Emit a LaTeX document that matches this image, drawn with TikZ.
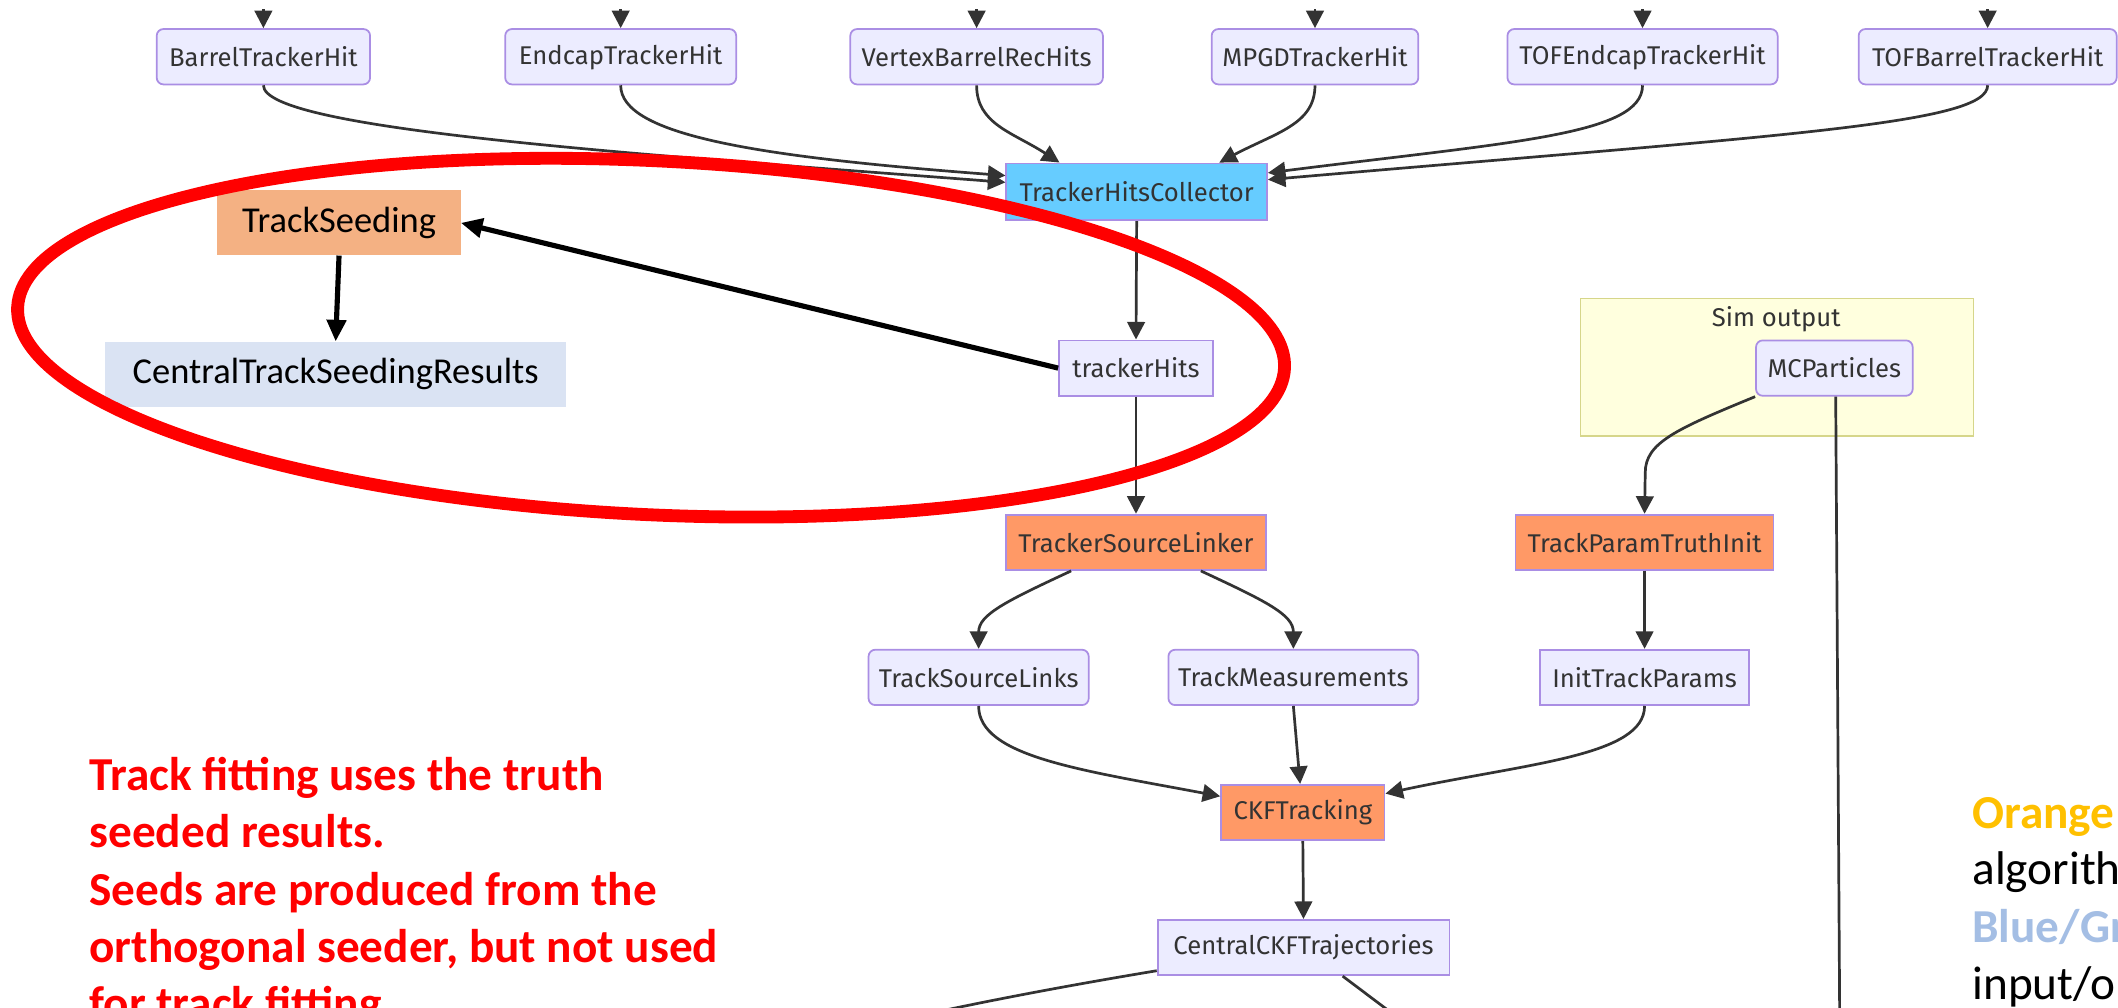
\documentclass[tikz,border=0pt]{standalone}
\usepackage{fontspec}
\setmainfont{Fira Sans}
\newfontfamily\calibri{Carlito}
\usetikzlibrary{arrows.meta,shapes.geometric,calc}

\definecolor{mmfill}{HTML}{ECECFF}
\definecolor{mmstroke}{HTML}{AA8EE4}
\definecolor{mmtext}{HTML}{333333}
\definecolor{mmline}{HTML}{333333}
\definecolor{algofill}{HTML}{FF9966}
\definecolor{collfill}{HTML}{66CCFF}
\definecolor{simfill}{HTML}{FFFFDE}
\definecolor{simstroke}{HTML}{D6D68A}
\definecolor{seedfill}{HTML}{F4B183}
\definecolor{seedres}{HTML}{DAE3F3}
\definecolor{ringred}{HTML}{FF0000}
\definecolor{noteorange}{HTML}{FFC000}
\definecolor{noteblue}{HTML}{A4BEE4}

\tikzset{
  mmbase/.style={draw=mmstroke, line width=1.3pt, text=mmtext,
    font=\fontsize{19}{22}\selectfont, inner sep=0pt, minimum height=41pt},
  data/.style={mmbase, fill=mmfill, rounded corners=5pt},
  datasq/.style={mmbase, fill=mmfill},
  algo/.style={mmbase, fill=algofill},
  collector/.style={mmbase, fill=collfill},
  edge/.style={draw=mmline, line width=2pt, -{Triangle[length=13pt,width=13pt]}},
  plainedge/.style={draw=mmline, line width=2pt},
  blkarrow/.style={draw=black, line width=3.8pt, -{Triangle[length=16pt,width=14pt]}},
  seedbox/.style={inner sep=0pt, minimum height=48pt, text=black,
    font=\calibri\fontsize{27}{30}\selectfont},
  rednote/.style={anchor=base west, inner sep=0pt, text=ringred,
    font=\calibri\bfseries\fontsize{35}{42}\selectfont},
  sidenote/.style={anchor=base west, inner sep=0pt,
    font=\calibri\fontsize{35}{42}\selectfont},
}

\begin{document}
\begin{tikzpicture}[x=1pt, y=-1pt]
\useasboundingbox (0,0) rectangle (1568,746);
\clip (0,0) rectangle (1568,746);

% simulation output cluster
\node[draw=simstroke, fill=simfill, line width=1.3pt, inner sep=0pt,
      minimum width=291pt, minimum height=102pt] (sim) at (1315.5,272) {};
\node[text=mmtext, font=\fontsize{19}{22}\selectfont, inner sep=0pt] (simlabel) at (1315,236) {Sim output};

% hit collections
\node[data, minimum width=158pt] (bth)  at (195,42)    {BarrelTrackerHit};
\node[data, minimum width=171pt] (eth)  at (459.5,42)  {EndcapTrackerHit};
\node[data, minimum width=187pt] (vbr)  at (723,42)    {VertexBarrelRecHits};
\node[data, minimum width=153pt] (mpgd) at (973.5,42)  {MPGDTrackerHit};
\node[data, minimum width=200pt] (tofe) at (1216,42)   {TOFEndcapTrackerHit};
\node[data, minimum width=191pt] (tofb) at (1471.5,42) {TOFBarrelTrackerHit};

\node[collector, minimum width=193pt, minimum height=42pt] (coll) at (841.5,142) {TrackerHitsCollector};
\node[datasq, minimum width=114pt] (th) at (841,272.5) {trackerHits};

\node[data, minimum width=116pt] (mcp) at (1358,272.5) {MCParticles};

\node[algo, minimum width=192pt] (tsl)  at (841,401.5)    {TrackerSourceLinker};
\node[algo, minimum width=191pt] (tpti) at (1217.5,401.5) {TrackParamTruthInit};

\node[data, minimum width=163pt]   (tslinks) at (724.5,501.5)  {TrackSourceLinks};
\node[data, minimum width=185pt]   (tmeas)   at (957.5,501.5)  {TrackMeasurements};
\node[datasq, minimum width=155pt] (itp)     at (1217.5,501.5) {InitTrackParams};

\node[algo, minimum width=121pt]   (ckf)  at (964.5,601.5) {CKFTracking};
\node[datasq, minimum width=216pt] (cckf) at (965,701.5)   {CentralCKFTrajectories};

% seeding branch
\node[seedbox, fill=seedfill, minimum width=180pt] (tseed) at (251,165) {TrackSeeding};
\node[seedbox, fill=seedres, minimum width=341pt] (ctsr) at (248.5,277) {CentralTrackSeedingResults};

% incoming edges from above
\foreach \n/\x in {bth/195, eth/459.5, vbr/723, mpgd/973.5, tofe/1216, tofb/1471.5}{
  \coordinate (\n in) at (\x,7);
  \draw[edge] (\n in) -- (\n.north);
}

% hits into the collector
\draw[edge] (bth.south) .. controls (195,96) and (470,114) .. ($(coll.west)+(0,-7)$);
\draw[edge] (eth.south) .. controls (459.5,100) and (560,116) .. ($(coll.west)+(0,-12)$);
\draw[edge] (vbr.south) .. controls (723,92) and (750,98) .. ($(coll.north west)+(40,0)$);
\draw[edge] (mpgd.south) .. controls (973.5,92) and (945,98) .. ($(coll.north east)+(-36,0)$);
\draw[edge] (tofe.south) .. controls (1216,100) and (1120,105) .. ($(coll.east)+(0,-14)$);
\draw[edge] (tofb.south) .. controls (1471.5,92) and (1320,100) .. ($(coll.east)+(0,-9)$);

\draw[edge] (coll.south) -- (th.north);
\draw[edge] (th.south) -- (tsl.north);

% truth initialisation
\draw[edge] (mcp.south west) .. controls (1240,318) and (1218,328) .. (1218,350) -- (tpti.north);
\coordinate (mcpout) at (1362,760);
\draw[plainedge] ($(mcp.south)+(1,0)$) -- (mcpout);
\draw[edge] (tpti.south) -- (itp.north);

% source linking
\draw[edge] ($(tsl.south)+(-48,0)$) .. controls (745,445) and (724.5,455) .. (tslinks.north);
\draw[edge] ($(tsl.south)+(48,0)$) .. controls (937,445) and (957.5,455) .. (tmeas.north);

% CKF inputs
\draw[edge] (tslinks.south) .. controls (724.5,560) and (800,570) .. ($(ckf.west)+(0,-12)$);
\draw[edge] (tmeas.south) -- ($(ckf.north)+(-2,0)$);
\draw[edge] (itp.south) .. controls (1217.5,560) and (1130,565) .. ($(ckf.east)+(0,-14)$);
\draw[edge] (ckf.south) -- (cckf.north);

% trajectories leaving downwards
\coordinate (ckfoutl) at (680,752);
\coordinate (ckfoutr) at (1033,752);
\draw[plainedge] ($(cckf.south west)+(0,-4)$) .. controls (800,728) and (740,739) .. (ckfoutl);
\draw[plainedge] ($(cckf.south)+(29,0)$) -- (ckfoutr);

% seeding arrows
\draw[blkarrow] (th.west) -- (tseed.east);
\draw[blkarrow] (tseed.south) -- (ctsr.north);

% highlight ring
\node[draw=ringred, line width=9.5pt, ellipse, inner sep=0pt,
      minimum width=939pt, minimum height=262pt, rotate=-2.76] (ring) at (482,250) {};

% notes
\node[rednote] (note1) at (66,585)   {Track fitting uses the truth};
\node[rednote] (note2) at (66,627.5) {seeded results.};
\node[rednote] (note3) at (66,670)   {Seeds are produced from the};
\node[rednote] (note4) at (66,712.5) {orthogonal seeder, but not used};
\node[rednote] (note5) at (66,755)   {for track fitting.};

\node[sidenote, text=noteorange, font=\calibri\bfseries\fontsize{35}{42}\selectfont] (side1) at (1460,613) {Orange};
\node[sidenote, text=black] (side2) at (1460,655) {algorith};
\node[sidenote, text=noteblue, font=\calibri\bfseries\fontsize{35}{42}\selectfont] (side3) at (1460,698) {Blue/Gr};
\node[sidenote, text=black] (side4) at (1460,740) {input/o};
\end{tikzpicture}
\end{document}
